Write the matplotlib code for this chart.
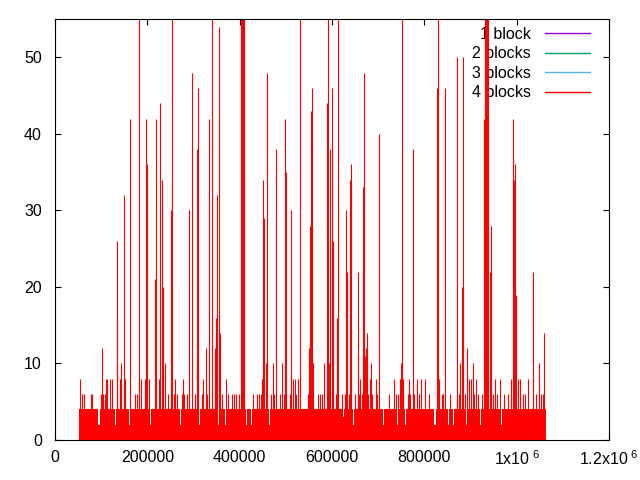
import numpy as np
import matplotlib
matplotlib.use('Agg')
import matplotlib.pyplot as plt
from matplotlib.ticker import FixedLocator, FixedFormatter

plt.rcParams['font.family'] = 'Liberation Sans'
plt.rcParams['mathtext.fontset'] = 'custom'
plt.rcParams['mathtext.rm'] = 'Liberation Sans'

# base level of the series and where it runs
base_level = 4
base_start = 52000
base_end = 1064000
bin_step = 2200

# places where the base drops to 2 (or 3)
dip_x = [94700, 98100, 130600, 160900, 207300, 271400, 311900, 353700, 368900,
         414400, 425200, 464200, 518300, 624500, 646100, 663500, 711100, 741400,
         758800, 823800, 851900, 862700, 890900, 921200, 966700]
dip_h = [2, 2, 2, 2, 2, 2, 2, 2, 2,
         2, 2, 2, 2, 3, 2, 2, 2, 2,
         2, 2, 2, 2, 2, 2, 2]

# small spikes above the base
small_x = [57800, 63500, 78600, 80800, 99600, 104000, 108300, 110500, 113300,
           119800, 124100, 140800, 152300, 173900, 177000, 186300, 195600,
           204300, 225900, 245400, 258400, 260600, 264900, 275100, 277900,
           280100, 285900, 303900, 317800, 321200, 329900, 362400, 371000,
           375400, 384000, 388300, 392600, 399200, 429500, 438200, 442500,
           446900, 449000, 468500, 475000, 488000, 496700, 509700, 516200,
           520500, 522600, 527000, 548600, 570300, 574700, 579000, 609300,
           622300, 628800, 637500, 650500, 659100, 665600, 678600, 683000,
           687300, 696000, 698100, 724100, 739300, 743600, 747900, 754400,
           765200, 767400, 769600, 778300, 784700, 789100, 793400, 802100,
           810700, 832400, 838900, 841000, 856200, 871400, 875700, 877900,
           888700, 897400, 901700, 908600, 912900, 917200, 925900, 949400,
           953700, 958000, 964500, 973200, 981900, 988400, 1003500, 1007900,
           1014400, 1018700, 1025200, 1035800, 1042500, 1053300, 1057700]
small_h = [6, 6, 6, 6, 6, 6, 6, 8, 8,
           8, 8, 8, 8, 6, 6, 8, 8,
           8, 8, 6, 6, 8, 6, 6, 8,
           6, 6, 6, 6, 8, 6, 6, 8,
           6, 6, 6, 6, 6, 6, 6, 6,
           6, 8, 6, 6, 6, 6, 6, 8,
           8, 6, 8, 6, 6, 6, 6, 6,
           6, 6, 6, 6, 6, 6, 6, 8,
           6, 8, 6, 6, 6, 6, 8, 8,
           6, 8, 6, 6, 8, 6, 8, 8,
           6, 8, 6, 6, 6, 6, 6, 10,
           6, 8, 8, 6, 8, 6, 6, 6,
           8, 6, 8, 6, 6, 8, 8, 8,
           6, 6, 8, 6, 6, 6, 6]

# tall spikes (60 = goes past the top)
spike_x = [54000, 102000, 133600, 134900, 143000, 150100, 163100, 182600,
           197800, 199900, 217200, 219400, 228100, 232400, 234600, 238900,
           251900, 254100, 290900, 297400, 306900, 308200, 310400, 327700,
           334200, 340700, 347200, 349400, 351500, 355900, 358000, 402200,
           404400, 406500, 408700, 451200, 453300, 457700, 459800, 472800,
           479300, 492300, 498800, 501000, 511800, 531300, 550800, 553000,
           555100, 557300, 559500, 583300, 589800, 591900, 594100, 596300,
           600600, 602800, 611500, 613600, 631000, 633100, 639600, 641800,
           655600, 657000, 661300, 667800, 670000, 672100, 674300, 676400,
           685100, 702400, 734900, 750100, 752300, 776100, 828100, 830200,
           845400, 870100, 882200, 884400, 893100, 906000, 928600, 930700,
           932900, 935000, 937200, 942200, 944400, 991400, 993600, 995700,
           997900, 1035300, 1049000, 1059800]
spike_h = [8, 12, 16, 26, 10, 32, 42, 60,
           42, 36, 21, 42, 44, 34, 20, 10,
           30, 60, 30, 48, 10, 38, 46, 12,
           42, 60, 12, 16, 32, 54, 14, 60,
           60, 60, 60, 34, 29, 10, 48, 10,
           38, 10, 42, 35, 30, 60, 12, 28,
           43, 46, 10, 10, 44, 60, 10, 38,
           46, 26, 16, 60, 30, 22, 34, 36,
           11, 22, 8, 33, 48, 11, 12, 14,
           10, 40, 8, 10, 60, 38, 46, 60,
           46, 50, 20, 50, 12, 10, 42, 60,
           60, 60, 60, 22, 28, 42, 34, 36,
           19, 22, 10, 14]

series_names = ['1 block', '2 blocks', '3 blocks', '4 blocks']
series_colors = ['#9400d3', '#009e73', '#56b4e9', '#ff0000']

xtick_vals = [0, 200000, 400000, 600000, 800000, 1000000, 1200000]
xtick_labels = ['0', '200000', '400000', '600000', '800000',
                r'1x10$^{\ 6}$', r'1.2x10$^{\ 6}$']
ytick_vals = [0, 10, 20, 30, 40, 50]

# base as a step area
edges = np.arange(base_start, base_end + bin_step, bin_step)
heights = np.full(len(edges) - 1, float(base_level))
for x, h in zip(dip_x, dip_h):
    i = int((x - base_start) // bin_step)
    heights[i] = h

fig = plt.figure(figsize=(6.4, 4.8), dpi=100)
ax = fig.add_axes([55 / 640, 40 / 480, 554 / 640, 421 / 480])

# empty series for the legend (only 4 blocks has visible data)
for name, c in zip(series_names, series_colors):
    ax.plot([], [], color=c, lw=1.0, label=name)

ax.stairs(heights, edges, fill=True, color='#ff0000', lw=0, zorder=2)
ax.vlines(small_x, 0, small_h, color='#ff0000', lw=0.8, zorder=2)
ax.vlines(spike_x, 0, spike_h, color='#ff0000', lw=0.8, zorder=2)

ax.set_xlim(0, 1200000)
ax.set_ylim(0, 55)
ax.xaxis.set_major_locator(FixedLocator(xtick_vals))
ax.xaxis.set_major_formatter(FixedFormatter(xtick_labels))
ax.set_yticks(ytick_vals)
ax.tick_params(direction='in', length=4, width=0.8, top=True, right=True,
               labelsize=11.5)
ax.tick_params(axis='x', pad=7)
ax.tick_params(axis='y', pad=9.5)
for s in ax.spines.values():
    s.set_linewidth(0.8)

leg = ax.legend(loc='upper right', bbox_to_anchor=(0.986, 1.008),
                frameon=False, markerfirst=False,
                fontsize=11.5, handlelength=2.8, handletextpad=0.9,
                labelspacing=0.28, borderaxespad=0.3)
leg.set_zorder(1)

fig.savefig('out.png', dpi=100)
